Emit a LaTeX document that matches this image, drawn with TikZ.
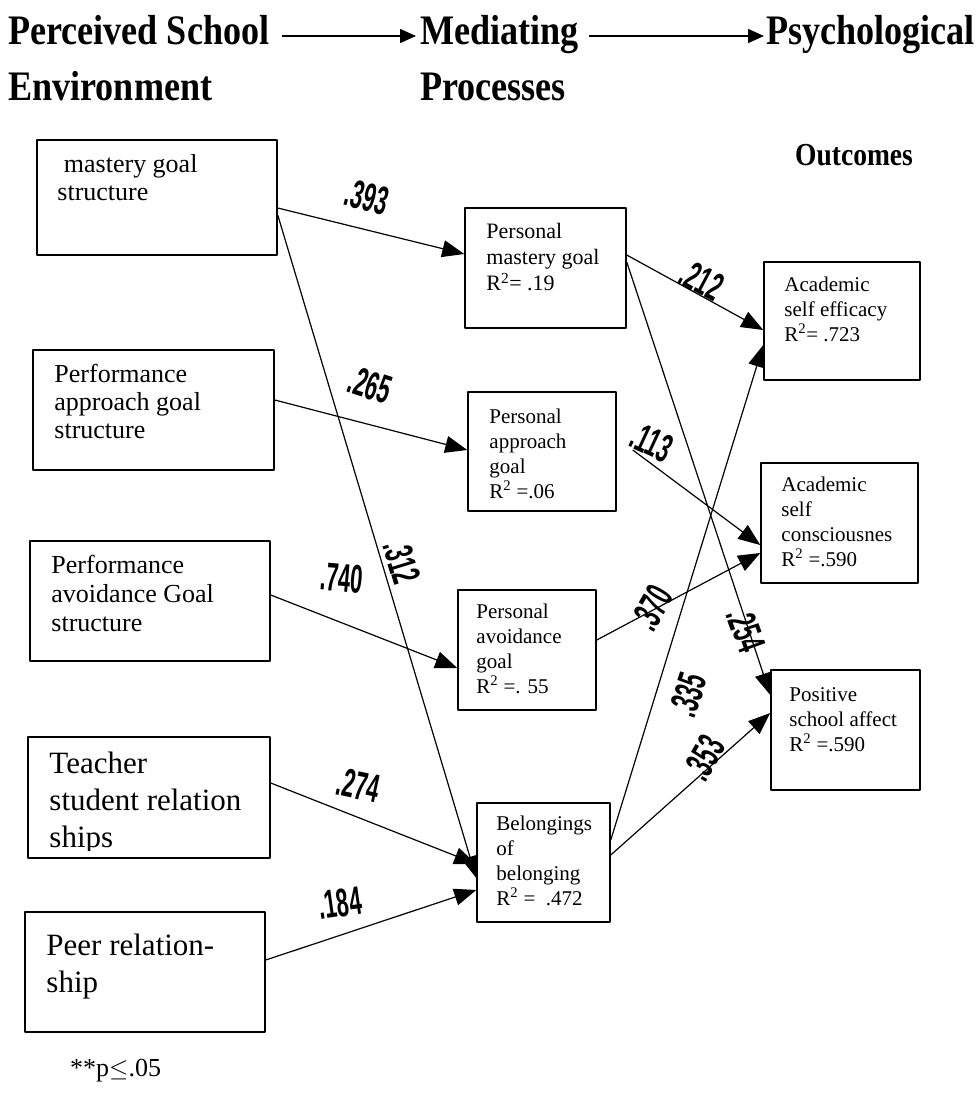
\documentclass[tikz,border=0pt]{standalone}
\usepackage{fontspec}
\setmainfont{Liberation Serif}
\newfontfamily\headfont[FakeStretch=0.86]{Liberation Serif}
\newfontfamily\coeffont[FakeStretch=0.55]{Liberation Sans}
\usetikzlibrary{arrows.meta,calc}

\begin{document}
\begin{tikzpicture}[
    x=1pt, y=-1pt,
    >={Triangle[length=22pt,width=17pt]},
    line join=round,
    box/.style={draw, line width=1.5pt, inner sep=0pt},
    txt/.style={anchor=north west, inner sep=0pt, align=left},
    head/.style={anchor=base west, inner sep=0pt,
        font={\headfont\bfseries\fontsize{42}{42}\selectfont}},
    link/.style={->, line width=1.2pt},
    hlink/.style={-{Triangle[length=16pt,width=14pt]}, line width=1.4pt},
    coef/.style={inner sep=0pt,
        font={\coeffont\bfseries\fontsize{40}{40}\selectfont}}
]

% Page frame
\useasboundingbox (0,0) rectangle (980,1093);

% Column headings
\node[head] (pse) at (8,44) {Perceived School};
\node[head] (env) at (8,100) {Environment};
\node[head] (med) at (420,44) {Mediating};
\node[head] (pro) at (420,100) {Processes};
\node[head] (psy) at (766,44) {Psychological};
\node[head, font={\headfont\bfseries\fontsize{32}{32}\selectfont}]
    (out) at (795,165) {Outcomes};

\draw[hlink] ([xshift=12pt,yshift=8pt]pse.base east) -- ([xshift=-4pt,yshift=8pt]med.base west);
\draw[hlink] ([xshift=10pt,yshift=8pt]med.base east) -- ([xshift=-2pt,yshift=8pt]psy.base west);

% School environment (left column)
\node[box, minimum width=240pt, minimum height=115pt] (msg) at (157,197.5) {};
\node[box, minimum width=241pt, minimum height=120pt] (pag) at (153.5,410) {};
\node[box, minimum width=240pt, minimum height=120pt] (pav) at (150,601) {};
\node[box, minimum width=242pt, minimum height=121pt] (tsr) at (149,797.5) {};
\node[box, minimum width=240pt, minimum height=120pt] (peer) at (145,972) {};

\node[txt, font={\fontsize{26}{28}\selectfont}] (msg-t)
    at ($(msg.north west)+(21,15)$) {\ mastery goal\\structure};
\node[txt, font={\fontsize{26}{28}\selectfont}] (pag-t)
    at ($(pag.north west)+(22,15)$) {Performance\\approach goal\\structure};
\node[txt, font={\fontsize{26}{29}\selectfont}] (pav-t)
    at ($(pav.north west)+(22,15)$) {Performance\\avoidance Goal\\structure};
\begin{scope}
    \clip ($(tsr.north west)+(2,2)$) rectangle ($(tsr.south east)+(-2,-8)$);
    \node[txt, font={\fontsize{31}{37}\selectfont}] (tsr-t)
        at ($(tsr.north west)+(22,16)$) {Teacher\\student relation\\ships};
\end{scope}
\node[txt, font={\fontsize{31}{37}\selectfont}] (peer-t)
    at ($(peer.north west)+(22,23)$) {Peer relation-\\ship};

% Mediating processes (middle column)
\node[box, minimum width=161pt, minimum height=120pt] (pmg) at (545.5,268) {};
\node[box, minimum width=148pt, minimum height=119pt] (pap) at (542,451.5) {};
\node[box, minimum width=138pt, minimum height=120pt] (pvg) at (527,650) {};
\node[box, minimum width=133pt, minimum height=119pt] (bel) at (543.5,862.5) {};

\node[txt, font={\fontsize{22}{26}\selectfont}] (pmg-t)
    at ($(pmg.north west)+(22,16)$) {Personal\\mastery goal\\R\textsuperscript{2}= .19};
\node[txt, font={\fontsize{21}{25}\selectfont}] (pap-t)
    at ($(pap.north west)+(22,17)$) {Personal\\approach\\goal\\R\textsuperscript{2} =.06};
\node[txt, font={\fontsize{21}{25}\selectfont}] (pvg-t)
    at ($(pvg.north west)+(19,14)$) {Personal\\avoidance\\goal\\R\textsuperscript{2} =. 55};
\begin{scope}
    \clip ($(bel.north west)+(2,2)$) rectangle ($(bel.south east)+(-2,-10)$);
    \node[txt, font={\fontsize{21}{25}\selectfont}] (bel-t)
        at ($(bel.north west)+(20,13)$) {Belongings\\of\\belonging\\R\textsuperscript{2} =\ \ .472};
\end{scope}

% Psychological outcomes (right column)
\node[box, minimum width=156pt, minimum height=118pt] (ase) at (842,321) {};
\node[box, minimum width=157pt, minimum height=120pt] (asc) at (839.5,523) {};
\node[box, minimum width=149pt, minimum height=120pt] (psa) at (845.5,730) {};

\node[txt, font={\fontsize{21}{25}\selectfont}] (ase-t)
    at ($(ase.north west)+(21,15)$) {Academic\\self efficacy\\R\textsuperscript{2}= .723};
\node[txt, font={\fontsize{21}{25}\selectfont}] (asc-t)
    at ($(asc.north west)+(21,14)$) {Academic\\self\\consciousnes\\R\textsuperscript{2} =.590};
\node[txt, font={\fontsize{21}{25}\selectfont}] (psa-t)
    at ($(psa.north west)+(19,18)$) {Positive\\school affect\\R\textsuperscript{2} =.590};

% Paths into the mediators
\draw[link] ([yshift=-10.5pt]msg.east) -- ([yshift=14pt]pmg.west);
\draw[link] ([yshift=-17.5pt]msg.east) -- ([yshift=-15.5pt]bel.west);
\draw[link] ([yshift=10pt]pag.east) -- ([yshift=1.5pt]pap.west);
\draw[link] ([yshift=6pt]pav.east) -- ([yshift=-18pt]pvg.west);
\draw[link] ([yshift=14.5pt]tsr.east) -- ([yshift=-1.5pt]bel.west);
\draw[link] ([yshift=12pt]peer.east) -- ([yshift=-27.5pt]bel.west);

% Paths into the outcomes
\draw[link] ([yshift=13pt]pmg.east) -- ([yshift=-9pt]ase.west);
\draw[link] ([yshift=6pt]pmg.east) -- ([yshift=35pt]psa.west);
\draw[link] ([xshift=16pt,yshift=1.5pt]pap.east) -- ([yshift=-22pt]asc.west);
\draw[link] ([yshift=10pt]pvg.east) -- ([yshift=-30pt]asc.west);
\draw[link] ([yshift=22.5pt]bel.east) -- ([yshift=-24pt]ase.west);
\draw[link] ([yshift=7.5pt]bel.east) -- ([yshift=17pt]psa.west);

% Path coefficients
\node[coef, rotate=-15] (c393) at (367,197) {.393};
\node[coef, rotate=-18] (c265) at (370,385) {.265};
\node[coef, rotate=-73] (c312) at (402,562) {.312};
\node[coef, rotate=-5]  (c740) at (342,578) {.740};
\node[coef, rotate=-12] (c274) at (358,785) {.274};
\node[coef, rotate=8]   (c184) at (340,903) {.184};
\node[coef, rotate=-28] (c212) at (702,280) {.212};
\node[coef, rotate=-25] (c113) at (652,442) {.113};
\node[coef, rotate=60]  (c370) at (652,608) {.370};
\node[coef, rotate=-70] (c254) at (746,630) {.254};
\node[coef, rotate=72]  (c335) at (688,695) {.335};
\node[coef, rotate=60]  (c353) at (704,758) {.353};

% Significance note
\node[anchor=base west, inner sep=0pt, font={\fontsize{26}{26}\selectfont}]
    (note) at (70,1076) {**p$\leq$.05};

\end{tikzpicture}
\end{document}
